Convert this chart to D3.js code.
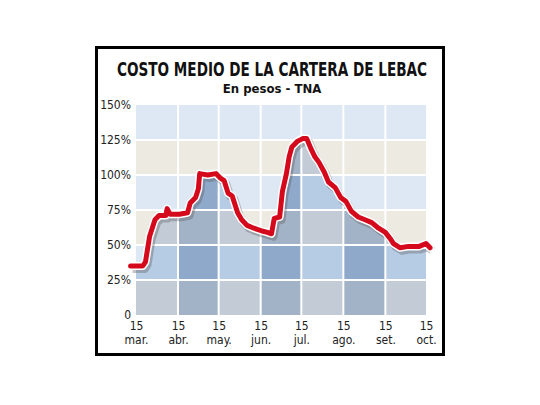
<!DOCTYPE html>
<html>
<head>
<meta charset="utf-8">
<script src="https://cdn.jsdelivr.net/npm/d3@7"></script>
<style>
	body { margin: 0; background: #fff; }
	svg { display: block; }
</style>
</head>
<body>
<div id="chart"></div>
<script>
(function () {
	"use strict";

	var title = 'COSTO MEDIO DE LA CARTERA DE LEBAC';
	var subtitle = 'En pesos - TNA';

	var yTicks = [0, 25, 50, 75, 100, 125, 150];
	var monthTicks = ['2016-03-15', '2016-04-15', '2016-05-15', '2016-06-15', '2016-07-15', '2016-08-15', '2016-09-15', '2016-10-15'];
	var monthLabels = ['mar.', 'abr.', 'may.', 'jun.', 'jul.', 'ago.', 'set.', 'oct.'];

	var dates = ['2016-03-11', '2016-03-20', '2016-03-22', '2016-03-25', '2016-03-29', '2016-04-01', '2016-04-06',
		'2016-04-07', '2016-04-09', '2016-04-16', '2016-04-22', '2016-04-24', '2016-04-28', '2016-04-30',
		'2016-05-01', '2016-05-07', '2016-05-13', '2016-05-16', '2016-05-19', '2016-05-22', '2016-05-25',
		'2016-05-29', '2016-06-01', '2016-06-05', '2016-06-10', '2016-06-16', '2016-06-20', '2016-06-23',
		'2016-06-25', '2016-06-29', '2016-07-01', '2016-07-04', '2016-07-06', '2016-07-08', '2016-07-12',
		'2016-07-16', '2016-07-19', '2016-07-22', '2016-07-25', '2016-07-28', '2016-08-01', '2016-08-04',
		'2016-08-09', '2016-08-13', '2016-08-17', '2016-08-21', '2016-08-26', '2016-08-31', '2016-09-05',
		'2016-09-10', '2016-09-15', '2016-09-19', '2016-09-21', '2016-09-26', '2016-10-02', '2016-10-10',
		'2016-10-15', '2016-10-18'];
	var rates = [35, 35, 38, 56, 68, 71, 71,
		76, 72, 72, 73, 80, 84, 90,
		101, 100, 101, 98, 96, 87, 85,
		73, 68, 64, 62, 60, 59, 58,
		69, 70, 88, 101, 113, 120, 124,
		126, 126, 119, 113, 109, 102, 95,
		91, 84, 81, 74, 70, 68, 66,
		62, 59, 54, 51, 48, 49, 49,
		51, 48];

	var parse = d3.timeParse('%Y-%m-%d');
	var points = dates.map(function (d, i) { return { date: parse(d), value: rates[i] }; });
	var font = '"DejaVu Sans Condensed", "DejaVu Sans", sans-serif';

	var svg = d3.select('#chart').append('svg')
		.attr('width', 540)
		.attr('height', 405);

	svg.append('rect')
		.attr('x', 96.5).attr('y', 47.5)
		.attr('width', 347).attr('height', 307)
		.attr('fill', '#fff')
		.attr('stroke', '#000')
		.attr('stroke-width', 3);

	svg.append('text')
		.attr('x', 272).attr('y', 76)
		.attr('text-anchor', 'middle')
		.attr('font-family', font)
		.attr('font-weight', 'bold')
		.attr('font-size', 20)
		.attr('textLength', 310)
		.attr('lengthAdjust', 'spacingAndGlyphs')
		.attr('fill', '#111')
		.text(title);

	svg.append('text')
		.attr('x', 272).attr('y', 93)
		.attr('text-anchor', 'middle')
		.attr('font-family', font)
		.attr('font-weight', 'bold')
		.attr('font-size', 13)
		.attr('fill', '#111')
		.text(subtitle);

	var x = d3.scaleTime()
		.domain([parse(monthTicks[0]), parse(monthTicks[monthTicks.length - 1])])
		.range([136, 426]);
	var y = d3.scaleLinear().domain([0, 150]).range([315, 105]);

	var plot = svg.append('g');

	// grid cells: above the curve, and again clipped below it
	var cells = [];
	d3.range(yTicks.length - 1).forEach(function (r) {
		d3.range(monthTicks.length - 1).forEach(function (c) {
			cells.push({ row: r, col: c });
		});
	});

	function cellAttrs(sel, colorFn) {
		sel.attr('x', function (d) { return x(parse(monthTicks[d.col])); })
			.attr('y', function (d) { return y(yTicks[d.row + 1]); })
			.attr('width', function (d) { return x(parse(monthTicks[d.col + 1])) - x(parse(monthTicks[d.col])); })
			.attr('height', function (d) { return y(yTicks[d.row]) - y(yTicks[d.row + 1]); })
			.attr('fill', colorFn);
	}

	plot.selectAll('.cell-top').data(cells).enter().append('rect')
		.call(cellAttrs, function (d) { return d.row % 2 === 1 ? '#dde8f4' : '#edeae1'; });

	var area = d3.area()
		.x(function (d) { return x(d.date); })
		.y0(y(0))
		.y1(function (d) { return y(d.value); });

	svg.append('clipPath').attr('id', 'under')
		.append('path').attr('d', area(points));

	plot.append('g').attr('clip-path', 'url(#under)')
		.selectAll('rect').data(cells).enter().append('rect')
		.call(cellAttrs, function (d) {
			var light = d.col % 2 === 0;
			if (d.row % 2 === 1) { return light ? '#b6cbe4' : '#8fa9cb'; }
			return light ? '#c2cbd6' : '#a3b3c7';
		});

	// white grid
	plot.selectAll('.vline').data(monthTicks.slice(1, -1)).enter().append('line')
		.attr('x1', function (d) { return x(parse(d)); })
		.attr('x2', function (d) { return x(parse(d)); })
		.attr('y1', y(150)).attr('y2', y(0))
		.attr('stroke', '#fff').attr('stroke-width', 2);
	plot.selectAll('.hline').data(yTicks.slice(1, -1)).enter().append('line')
		.attr('x1', x.range()[0]).attr('x2', x.range()[1])
		.attr('y1', function (d) { return y(d); })
		.attr('y2', function (d) { return y(d); })
		.attr('stroke', '#fff').attr('stroke-width', 2);

	// y axis labels
	svg.append('g')
		.attr('transform', 'translate(131,0)')
		.call(d3.axisLeft(y).tickValues(yTicks).tickSize(0).tickPadding(0)
			.tickFormat(function (d) { return d === 0 ? '0' : d + '%'; }))
		.call(function (g) { g.select('.domain').remove(); })
		.call(function (g) {
			g.selectAll('text')
				.attr('font-family', font)
				.attr('font-size', 12)
				.attr('fill', '#222');
		});

	// x axis labels
	var xAxis = svg.append('g')
		.attr('transform', 'translate(0,' + (y(0) + 6) + ')')
		.call(d3.axisBottom(x).tickValues(monthTicks.map(parse)).tickSize(0).tickPadding(0)
			.tickFormat(function () { return '15'; }))
		.call(function (g) { g.select('.domain').remove(); });
	xAxis.selectAll('text')
		.attr('font-family', font)
		.attr('font-size', 12)
		.attr('fill', '#222');
	xAxis.selectAll('.tick').append('text')
		.attr('y', 14)
		.attr('dy', '0.71em')
		.attr('fill', '#222')
		.attr('font-family', font)
		.attr('font-size', 12)
		.text(function (d, i) { return monthLabels[i]; });

	// the curve: shadow, white outline, red line
	var line = d3.line()
		.x(function (d) { return x(d.date); })
		.y(function (d) { return y(d.value); });

	plot.append('path')
		.attr('d', line(points))
		.attr('transform', 'translate(2,3)')
		.attr('fill', 'none')
		.attr('stroke', '#555')
		.attr('stroke-opacity', 0.35)
		.attr('stroke-width', 8)
		.attr('stroke-linejoin', 'round');
	plot.append('path')
		.attr('d', line(points))
		.attr('fill', 'none')
		.attr('stroke', '#fff')
		.attr('stroke-width', 8)
		.attr('stroke-linejoin', 'round')
		.attr('stroke-linecap', 'round');
	plot.append('path')
		.attr('d', line(points))
		.attr('fill', 'none')
		.attr('stroke', '#d40a1c')
		.attr('stroke-width', 5)
		.attr('stroke-linejoin', 'round')
		.attr('stroke-linecap', 'round');
}());
</script>
</body>
</html>
